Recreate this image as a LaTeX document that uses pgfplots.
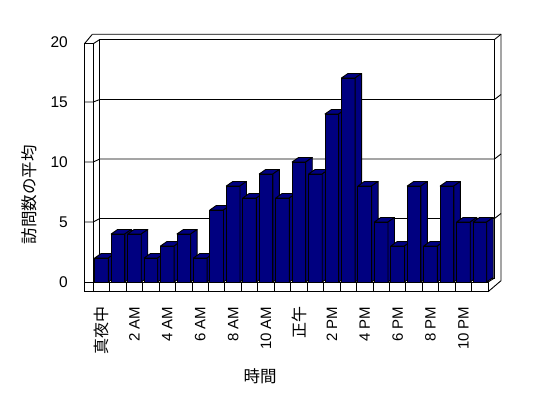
\documentclass[border=0pt]{standalone}
\usepackage{pgfplots}
\pgfplotsset{compat=1.18}
\usepackage{fontspec}
\setmainfont{Liberation Sans}
\newfontfamily\jp{Noto Sans CJK JP}
\definecolor{barc}{RGB}{0,0,128}
\pgfdeclareplotmark{empty}{}
\begin{document}
\begin{tikzpicture}[x=1pt,y=1pt]
\useasboundingbox[fill=white] (0,0) rectangle (548,398);
\begin{scope}[line width=0.9pt, line join=miter]
% back wall outer outline
\draw (92.3,363.7) -- (501,363.7) -- (501,117.3) -- (488.1,106.3);
% back wall inner face
\draw (99.8,120) rectangle (494.5,358.5);
\draw (494.5,358.5) -- (501,363.7);
\draw (488.1,116) -- (494.5,120);
% left wall
\draw (84.5,106.3) rectangle (93.3,354.3);
\draw (84.5,354.3) -- (92.3,363.7);
\draw (93.3,354.3) -- (99.8,358.5);
\draw (93.3,116) -- (99.8,120);
% floor
\draw (84.5,106.3) rectangle (488.1,116);
\foreach \k in {0,...,22} \draw ({93.3+16.45*(\k+1)},106.3) -- ({93.3+16.45*(\k+1)},116);
% grid lines
\foreach \v in {5,10,15} {
  \draw (84.5,{116+12*\v}) -- (93.3,{116+12*\v}) -- (99.8,{120+11.9*\v}) -- (494.5,{120+11.9*\v}) -- (501,{125+11.9*\v});
}
\end{scope}
\node[rotate=90] at (29,203) {\jp\fontsize{16.5}{18}\selectfont 訪問数の平均};
\node at (260,22) {\jp\fontsize{16.5}{18}\selectfont 時間};
\begin{axis}[
  at={(93.3pt,116pt)}, anchor=south west,
  scale only axis, width=394.8pt, height=240pt,
  xmin=-0.5, xmax=23.5, ymin=0, ymax=20,
  axis line style={draw=none}, major tick length=0pt,
  clip=false,
  ytick={0,5,10,15,20},
  xtick={0,2,...,22},
  xticklabels={{\jp\fontsize{16}{18}\selectfont 真夜中},2 AM,4 AM,6 AM,8 AM,10 AM,{\jp\fontsize{16}{18}\selectfont 正午},2 PM,4 PM,6 PM,8 PM,10 PM},
  xticklabel style={rotate=90, anchor=east, font=\fontsize{15}{17}\selectfont},
  xticklabel shift=21pt,
  yticklabel style={anchor=east, xshift=-22pt, font=\fontsize{15.5}{17}\selectfont},
  /pgf/number format/assume math mode=true,
]
\addplot[only marks, mark=empty, scatter,
  visualization depends on={rawy \as \ry},
  scatter/@pre marker code/.code={
    \filldraw[fill=barc,draw=black,line width=0.9pt,line join=round]
      (axis direction cs:-0.415,-\ry) rectangle (axis direction cs:0.415,0);
    \filldraw[fill=barc,draw=black,line width=0.9pt,line join=round]
      (axis direction cs:-0.415,0) -- (axis direction cs:0.415,0)
      -- ([shift={(6.5pt,4.5pt)}]axis direction cs:0.415,0)
      -- ([shift={(6.5pt,4.5pt)}]axis direction cs:-0.415,0) -- cycle;
    \filldraw[fill=barc,draw=black,line width=0.9pt,line join=round]
      (axis direction cs:0.415,0)
      -- ([shift={(6.5pt,4.5pt)}]axis direction cs:0.415,0)
      -- ([shift={(6.5pt,4.5pt)}]axis direction cs:0.415,-\ry)
      -- (axis direction cs:0.415,-\ry) -- cycle;
  },
  scatter/@post marker code/.code={},
] table {
x y
0 2
1 4
2 4
3 2
4 3
5 4
6 2
7 6
8 8
9 7
10 9
11 7
12 10
13 9
14 14
15 17
16 8
17 5
18 3
19 8
20 3
21 8
22 5
23 5
};
\end{axis}
\end{tikzpicture}
\end{document}
